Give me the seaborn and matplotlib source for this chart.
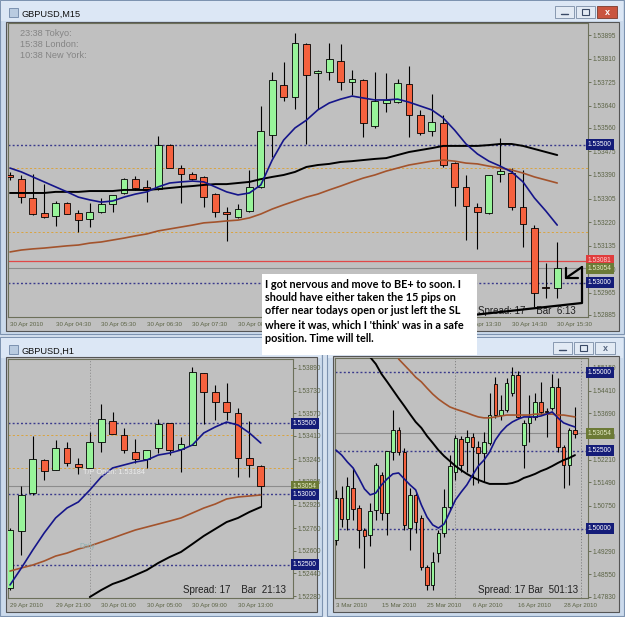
import numpy as np
import matplotlib
matplotlib.use("Agg")
import matplotlib.pyplot as plt
import matplotlib.transforms as mtransforms
from matplotlib.patches import Rectangle
from matplotlib.lines import Line2D
import seaborn as sns

nan = np.nan

# ---------------- GBPUSD M15 (30 Apr 2010, 03:30 .. 15:30) ----------------
m15_xlabels = ['30 Apr 2010', '30 Apr 04:30', '30 Apr 05:30', '30 Apr 06:30', '30 Apr 07:30',
               '30 Apr 08:30', '30 Apr 09:30', '30 Apr 10:30', '30 Apr 11:30', '30 Apr 12:30',
               '30 Apr 13:30', '30 Apr 14:30', '30 Apr 15:30']
m15_open = [1.53390, 1.53375, 1.53307, 1.53253, 1.53242, 1.53289, 1.53253, 1.53231, 1.53256, 1.53285,
            1.53325, 1.53375, 1.53347, 1.53339, 1.53498, 1.53415, 1.53393, 1.53383, 1.53321, 1.53256,
            1.53238, 1.53260, 1.53347, 1.53534, 1.53715, 1.53671, 1.53863, 1.53758, 1.53762, 1.53801,
            1.53726, 1.53733, 1.53567, 1.53650, 1.53653, 1.53718, 1.53606, 1.53549, 1.53578, 1.53433,
            1.53347, 1.53274, 1.53253, 1.53393, 1.53397, 1.53274, 1.53199, 1.52986, 1.52982]
m15_high = [1.53401, 1.53390, 1.53393, 1.53357, 1.53296, 1.53292, 1.53264, 1.53289, 1.53307, 1.53318,
            1.53379, 1.53386, 1.53372, 1.53531, 1.53502, 1.53426, 1.53401, 1.53386, 1.53325, 1.53274,
            1.53285, 1.53408, 1.53639, 1.53762, 1.53798, 1.53903, 1.53866, 1.53769, 1.53866, 1.53863,
            1.53769, 1.53736, 1.53762, 1.53758, 1.53736, 1.53783, 1.53625, 1.53682, 1.53606, 1.53437,
            1.53390, 1.53289, 1.53390, 1.53523, 1.53415, 1.53408, 1.53209, 1.53072, 1.53148]
m15_low = [1.53372, 1.53289, 1.53245, 1.53235, 1.53206, 1.53249, 1.53184, 1.53202, 1.53253, 1.53256,
           1.53321, 1.53336, 1.53292, 1.53336, 1.53415, 1.53289, 1.53372, 1.53274, 1.53238, 1.53152,
           1.53235, 1.53256, 1.53343, 1.53455, 1.53657, 1.53628, 1.53502, 1.53628, 1.53733, 1.53697,
           1.53679, 1.53527, 1.53560, 1.53617, 1.53650, 1.53527, 1.53534, 1.53531, 1.53419, 1.53278,
           1.53155, 1.53123, 1.53249, 1.53365, 1.53264, 1.53130, 1.52913, 1.52946, 1.52946]
m15_close = [1.53383, 1.53310, 1.53249, 1.53238, 1.53289, 1.53249, 1.53227, 1.53256, 1.53285, 1.53318,
             1.53375, 1.53343, 1.53336, 1.53498, 1.53415, 1.53393, 1.53375, 1.53310, 1.53256, 1.53249,
             1.53267, 1.53347, 1.53549, 1.53733, 1.53671, 1.53866, 1.53751, 1.53765, 1.53809, 1.53726,
             1.53736, 1.53578, 1.53657, 1.53661, 1.53722, 1.53606, 1.53542, 1.53581, 1.53426, 1.53347,
             1.53278, 1.53256, 1.53390, 1.53404, 1.53274, 1.53213, 1.52964, 1.52982, 1.53054]
m15_ma_fast = [1.53415, 1.53401, 1.53383, 1.53365, 1.53347, 1.53329, 1.53310, 1.53300, 1.53292, 1.53296,
               1.53310, 1.53321, 1.53329, 1.53347, 1.53361, 1.53365, 1.53368, 1.53365, 1.53347, 1.53329,
               1.53318, 1.53325, 1.53354, 1.53444, 1.53516, 1.53560, 1.53588, 1.53625, 1.53650, 1.53664,
               1.53675, 1.53668, 1.53661, 1.53661, 1.53664, 1.53653, 1.53639, 1.53625, 1.53596, 1.53552,
               1.53502, 1.53466, 1.53440, 1.53422, 1.53401, 1.53365, 1.53307, 1.53260, 1.53209]
m15_ma_mid = [1.53325, 1.53325, 1.53325, 1.53325, 1.53329, 1.53329, 1.53329, 1.53332, 1.53332, 1.53332,
              1.53336, 1.53336, 1.53336, 1.53339, 1.53343, 1.53347, 1.53350, 1.53354, 1.53357, 1.53357,
              1.53361, 1.53365, 1.53375, 1.53383, 1.53390, 1.53401, 1.53419, 1.53426, 1.53430, 1.53437,
              1.53440, 1.53444, 1.53448, 1.53451, 1.53462, 1.53473, 1.53480, 1.53487, 1.53495, 1.53495,
              1.53495, 1.53495, 1.53498, 1.53502, 1.53502, 1.53495, 1.53484, 1.53473, 1.53462]
m15_ma_slow = [1.53112, 1.53119, 1.53123, 1.53126, 1.53130, 1.53134, 1.53137, 1.53144, 1.53148, 1.53155,
               1.53162, 1.53170, 1.53177, 1.53188, 1.53195, 1.53202, 1.53209, 1.53217, 1.53220, 1.53224,
               1.53227, 1.53235, 1.53249, 1.53267, 1.53282, 1.53296, 1.53310, 1.53321, 1.53336, 1.53350,
               1.53365, 1.53379, 1.53390, 1.53404, 1.53415, 1.53426, 1.53433, 1.53440, 1.53444, 1.53440,
               1.53433, 1.53430, 1.53422, 1.53415, 1.53408, 1.53397, 1.53383, 1.53372, 1.53361]
m15_yticks = [1.53895, 1.53810, 1.53725, 1.53640, 1.53560, 1.53475, 1.53390, 1.53305,
              1.53220, 1.53135, 1.53050, 1.52965, 1.52885]

# ---------------- GBPUSD H1 (29 Apr 17:00 .. 30 Apr 15:00) ----------------
h1_xlabels = ['29 Apr 2010', '29 Apr 21:00', '30 Apr 01:00', '30 Apr 05:00', '30 Apr 09:00', '30 Apr 13:00']
h1_open = [1.52336, 1.52739, 1.53007, 1.53240, 1.53169, 1.53325, 1.53212, 1.53184, 1.53367, 1.53515,
           1.53417, 1.53297, 1.53247, 1.53325, 1.53501, 1.53318, 1.53346, 1.53854, 1.53720, 1.53650,
           1.53572, 1.53254, 1.53198]
h1_high = [1.52760, 1.53056, 1.53409, 1.53247, 1.53381, 1.53367, 1.53254, 1.53438, 1.53635, 1.53579,
           1.53466, 1.53388, 1.53311, 1.53530, 1.53501, 1.53402, 1.53897, 1.53854, 1.53770, 1.53784,
           1.53607, 1.53515, 1.53205]
h1_low = [1.52322, 1.52569, 1.52990, 1.53099, 1.53169, 1.53198, 1.53141, 1.53184, 1.53297, 1.53424,
          1.53289, 1.53219, 1.53184, 1.53289, 1.53275, 1.53155, 1.53346, 1.53494, 1.53522, 1.53522,
          1.53120, 1.53120, 1.52908]
h1_close = [1.52746, 1.52993, 1.53247, 1.53162, 1.53325, 1.53219, 1.53191, 1.53367, 1.53530, 1.53424,
            1.53311, 1.53247, 1.53311, 1.53494, 1.53311, 1.53353, 1.53861, 1.53720, 1.53650, 1.53579,
            1.53254, 1.53205, 1.53054]
h1_ma_fast = [1.52358, 1.52478, 1.52605, 1.52725, 1.52831, 1.52901, 1.52944, 1.53028, 1.53120, 1.53184,
              1.53205, 1.53226, 1.53240, 1.53275, 1.53289, 1.53311, 1.53346, 1.53431, 1.53473, 1.53508,
              1.53487, 1.53431, 1.53360]
h1_ma_mid = [nan, nan, nan, nan, nan, nan, nan, 1.52273, 1.52322, 1.52365,
             1.52393, 1.52428, 1.52463, 1.52513, 1.52555, 1.52591, 1.52647, 1.52704, 1.52753, 1.52802,
             1.52831, 1.52873, 1.52908]
h1_ma_slow = [1.52456, 1.52478, 1.52499, 1.52527, 1.52562, 1.52583, 1.52612, 1.52633, 1.52661, 1.52689,
              1.52718, 1.52746, 1.52767, 1.52788, 1.52809, 1.52831, 1.52866, 1.52901, 1.52929, 1.52965,
              1.52979, 1.52986, 1.52993]
h1_yticks = [1.53890, 1.53730, 1.53570, 1.53410, 1.53245, 1.53085, 1.52925, 1.52760,
             1.52600, 1.52440, 1.52280]

# ---------------- GBPUSD D1 (3 Mar .. 30 Apr 2010) ----------------
d1_xlabels = ['3 Mar 2010', '15 Mar 2010', '25 Mar 2010', '6 Apr 2010', '16 Apr 2010', '28 Apr 2010']
d1_open = [1.4965, 1.5099, 1.5032, 1.5131, 1.5067, 1.4997, 1.4981, 1.5061, 1.5172, 1.5051,
           1.5246, 1.5316, 1.5246, 1.5003, 1.5109, 1.5035, 1.4879, 1.4821, 1.4923, 1.4987,
           1.5070, 1.5182, 1.5287, 1.5278, 1.5294, 1.5262, 1.5243, 1.5275, 1.5463, 1.5364,
           1.5380, 1.5434, 1.5492, 1.5268, 1.5339, 1.5358, 1.5406, 1.5377, 1.5386, 1.5454,
           1.5262, 1.5204, 1.5316]
d1_high = [1.5125, 1.5137, 1.5166, 1.5195, 1.5077, 1.5003, 1.5083, 1.5211, 1.5182, 1.5249,
           1.5380, 1.5326, 1.5259, 1.5131, 1.5115, 1.5045, 1.4885, 1.4927, 1.4997, 1.5128,
           1.5236, 1.5300, 1.5297, 1.5316, 1.5307, 1.5281, 1.5310, 1.5434, 1.5485, 1.5428,
           1.5482, 1.5517, 1.5505, 1.5348, 1.5428, 1.5434, 1.5470, 1.5386, 1.5495, 1.5482,
           1.5268, 1.5323, 1.5390]
d1_low = [1.4949, 1.5006, 1.4997, 1.5029, 1.4939, 1.4875, 1.4946, 1.5029, 1.5029, 1.4981,
          1.5220, 1.5236, 1.4997, 1.4933, 1.4987, 1.4869, 1.4805, 1.4805, 1.4895, 1.4974,
          1.5061, 1.5157, 1.5182, 1.5182, 1.5141, 1.5147, 1.5150, 1.5268, 1.5355, 1.5348,
          1.5374, 1.5425, 1.5355, 1.5195, 1.5278, 1.5348, 1.5364, 1.5294, 1.5380, 1.5246,
          1.5131, 1.5141, 1.5291]
d1_close = [1.5099, 1.5032, 1.5137, 1.5064, 1.4997, 1.4978, 1.5057, 1.5204, 1.5051, 1.5249,
            1.5316, 1.5246, 1.5013, 1.5109, 1.5022, 1.4879, 1.4821, 1.4895, 1.4987, 1.5070,
            1.5201, 1.5291, 1.5204, 1.5294, 1.5262, 1.5243, 1.5278, 1.5364, 1.5364, 1.5380,
            1.5466, 1.5492, 1.5358, 1.5339, 1.5358, 1.5406, 1.5374, 1.5374, 1.5454, 1.5262,
            1.5204, 1.5316, 1.5305]
d1_ma_fast = [1.5252, 1.5236, 1.5214, 1.5195, 1.5163, 1.5128, 1.5109, 1.5115, 1.5141, 1.5160,
              1.5176, 1.5179, 1.5160, 1.5141, 1.5125, 1.5077, 1.5038, 1.5013, 1.5003, 1.5016,
              1.5054, 1.5093, 1.5118, 1.5141, 1.5172, 1.5201, 1.5220, 1.5246, 1.5284, 1.5310,
              1.5329, 1.5342, 1.5351, 1.5358, 1.5358, 1.5358, 1.5361, 1.5367, 1.5374, 1.5355,
              1.5339, 1.5332, 1.5326]
d1_ma_mid = [nan, nan, nan, nan, nan, nan, 1.5549, 1.5527, 1.5495, 1.5470,
             1.5444, 1.5418, 1.5393, 1.5367, 1.5342, 1.5323, 1.5297, 1.5275, 1.5252, 1.5233,
             1.5217, 1.5201, 1.5188, 1.5176, 1.5166, 1.5157, 1.5150, 1.5144, 1.5144, 1.5144,
             1.5144, 1.5147, 1.5153, 1.5163, 1.5169, 1.5176, 1.5185, 1.5192, 1.5201, 1.5211,
             1.5220, 1.5227, 1.5236]
d1_ma_slow = [nan, nan, nan, nan, nan, nan, nan, nan, nan, nan,
              nan, 1.5543, 1.5524, 1.5505, 1.5485, 1.5470, 1.5450, 1.5431, 1.5415, 1.5402,
              1.5390, 1.5383, 1.5377, 1.5371, 1.5364, 1.5358, 1.5355, 1.5355, 1.5358, 1.5361,
              1.5364, 1.5364, 1.5364, 1.5364, 1.5364, 1.5367, 1.5367, 1.5367, 1.5367, 1.5364,
              1.5364, 1.5361, 1.5358]
d1_yticks = [1.55150, 1.54410, 1.53690, 1.52950, 1.52210, 1.51490, 1.50750, 1.49290, 1.48550, 1.47830]

# levels
bid = 1.53054
m15_blue_levels = [1.53500, 1.53000]
h1_blue_levels = [1.53500, 1.53000, 1.52500]
d1_blue_levels = [1.55000, 1.52500, 1.50000]
orange_levels = [1.53415, 1.53184]
sl_level = 1.53081

note = ["I got nervous and move to BE+ to soon. I",
        "should have either taken the 15 pips on",
        "offer near todays open or just left the SL",
        "where it was, which I 'think' was in a safe",
        "position. Time will tell."]

sns.set_theme(style="white")
plt.rcParams['font.family'] = ['Liberation Sans', 'DejaVu Sans']

W, H = 625, 617
fig = plt.figure(figsize=(W / 100, H / 100), dpi=100)
fig.patch.set_facecolor('#d5e1ef')

GREEN = '#98f49a'
RED = '#f5613e'
BLUE = '#15158a'
BROWN = '#a3532c'
LBL = '#5c6446'
CHART_BG = '#c0c0c0'


def frect(x, y, w, h, **kw):
    fig.add_artist(Rectangle((x / W, 1 - (y + h) / H), w / W, h / H,
                             transform=fig.transFigure, **kw))


def ftext(x, y, s, **kw):
    fig.text(x / W, 1 - y / H, s, **kw)


def fline(xs, ys, **kw):
    fig.add_artist(Line2D([x / W for x in xs], [1 - y / H for y in ys],
                          transform=fig.transFigure, **kw))


def add_ax(x0, y0, x1, y1):
    return fig.add_axes([x0 / W, 1 - y1 / H, (x1 - x0) / W, (y1 - y0) / H])


def window(x, y, w, h, cx, cy, cw, ch, title=None):
    frect(x, y, w, h, fc='#cbdaec', ec='#7d93b0', lw=0.8, zorder=-5)
    frect(x + 1, y + 1, w - 2, 20, fc='#dce7f5', ec='none', zorder=-4)
    frect(cx, cy, cw, ch, fc=CHART_BG, ec='#555555', lw=0.8, zorder=-3)
    if title:
        frect(x + 9, y + 8, 9, 9, fc='#b9cbe0', ec='#6f86a6', lw=0.6, zorder=-2)
        ftext(x + 22, y + 14, title, fontsize=6.6, color='#111111', va='center')


def buttons(x, y, active):
    frect(x, y, 19, 12, fc='#e2eaf4', ec='#7a8ca6', lw=0.6, zorder=-2)
    frect(x + 21, y, 19, 12, fc='#e2eaf4', ec='#7a8ca6', lw=0.6, zorder=-2)
    frect(x + 42, y, 20, 12, fc='#c9553f' if active else '#e2eaf4',
          ec='#7a3a2c' if active else '#7a8ca6', lw=0.6, zorder=-2)
    fline([x + 6, x + 13], [y + 8, y + 8], color='#3a4a66', lw=1.0, zorder=-1)
    frect(x + 27, y + 3, 7, 6, fc='none', ec='#3a4a66', lw=0.8, zorder=-1)
    ftext(x + 52, y + 6.5, 'x', fontsize=6.5, fontweight='bold', ha='center', va='center',
          color='white' if active else '#55657f')


def price_box(ax, price, fc, tc):
    tr = mtransforms.blended_transform_factory(ax.transAxes, ax.transData)
    ax.text(1.0, price, f'{price:.5f}', transform=tr, ha='left', va='center',
            fontsize=4.8, color=tc, zorder=6, clip_on=False,
            bbox=dict(boxstyle='square,pad=0.3', fc=fc, ec='none'))


def panel(ax, o, h, l, c, fast, mid, slow, body_w, min_body, xlim, ylim,
          yticks, xlabels, xstep):
    idx = np.arange(len(o))
    o = np.array(o)
    c = np.array(c)
    colors = np.where(c >= o, GREEN, RED)
    ax.set_facecolor(CHART_BG)
    ax.vlines(idx, l, h, color='black', lw=0.8, zorder=2)
    ax.bar(idx, np.maximum(np.abs(c - o), min_body), body_w, np.minimum(o, c),
           color=colors, edgecolor='black', lw=0.6, zorder=3)
    for vals, col, lw in [(slow, BROWN, 1.2), (mid, 'black', 1.4), (fast, BLUE, 1.2)]:
        v = np.array(vals, dtype=float)
        m = ~np.isnan(v)
        sns.lineplot(x=idx[m], y=v[m], color=col, lw=lw, ax=ax, legend=False,
                     estimator=None, errorbar=None, zorder=4)
    ax.set_xlabel('')
    ax.set_ylabel('')
    ax.set_xlim(*xlim)
    ax.set_ylim(*ylim)
    ax.yaxis.tick_right()
    ax.set_yticks(yticks, [f'{t:.5f}' for t in yticks])
    ax.set_xticks(idx[::xstep][:len(xlabels)], xlabels, ha='left')
    ax.tick_params(axis='both', labelsize=4.7, labelcolor=LBL, color=LBL,
                   length=2, width=0.6, pad=1.2, direction='out')
    ax.tick_params(axis='x', pad=1.5, labelsize=4.4)
    for s in ax.spines.values():
        s.set_color('#6c705a')
        s.set_linewidth(0.8)


def hline(ax, y, color, ls, lw):
    ax.axhline(y, color=color, ls=ls, lw=lw, zorder=1)


# windows
window(0, 0, 624, 334, 6, 22, 613, 309, 'GBPUSD,M15')
buttons(555, 6, True)
window(0, 337, 322, 279, 6, 357, 311, 255, 'GBPUSD,H1')
window(327, 337, 297, 279, 333, 356, 286, 256)
buttons(553, 342, False)

DOT = (0, (1.4, 1.6))
ORG = (0, (2.2, 2.2))

# ---- M15 panel
ax1 = add_ax(8, 23, 588, 317)
hline(ax1, sl_level, '#e04848', '-', 0.9)
hline(ax1, bid, '#8c8c8c', '-', 0.8)
for lv in m15_blue_levels:
    hline(ax1, lv, '#3a3a8c', DOT, 1.0)
for lv in orange_levels:
    hline(ax1, lv, '#d9a441', ORG, 0.7)
panel(ax1, m15_open, m15_high, m15_low, m15_close, m15_ma_fast, m15_ma_mid, m15_ma_slow,
      0.6, 0.000036, (-0.175, 50.70), (1.52877, 1.53939), m15_yticks, m15_xlabels, 4)
price_box(ax1, 1.53500, '#141c78', 'white')
price_box(ax1, sl_level, '#e03c3c', '#ffd0d0')
price_box(ax1, bid, '#6c7a36', '#e4eac4')
price_box(ax1, 1.53000, '#141c78', 'white')

ftext(20, 34, '23:38 Tokyo:', fontsize=6.6, color='#858585', va='center')
ftext(20, 44.5, '15:38 London:', fontsize=6.6, color='#858585', va='center')
ftext(20, 55, '10:38 New York:', fontsize=6.6, color='#858585', va='center')
ftext(478, 311, 'Spread: 17    Bar  6:13', fontsize=7, color='#202020', va='center')

# hand-drawn marks on M15 chart
fline([473, 582, 582], [315, 303, 267], color='black', lw=1.6, zorder=4)
fline([582, 566], [267, 278], color='black', lw=1.6, zorder=4)
fline([566, 566, 578], [268, 278, 278], color='black', lw=1.6, zorder=4)

# ---- H1 panel
ax2 = add_ax(8, 359, 293, 598)
hline(ax2, bid, '#8c8c8c', '-', 0.8)
for lv in h1_blue_levels:
    hline(ax2, lv, '#3a3a8c', DOT, 1.0)
for lv in orange_levels:
    hline(ax2, lv, '#d9a441', ORG, 0.7)
ax2.axvline(7, color='#8c8c8c', ls=(0, (1.5, 2)), lw=0.6, zorder=1)
panel(ax2, h1_open, h1_high, h1_low, h1_close, h1_ma_fast, h1_ma_mid, h1_ma_slow,
      0.58, 0.00007, (-0.175, 24.825), (1.52266, 1.53953), h1_yticks, h1_xlabels, 4)
price_box(ax2, 1.53500, '#141c78', 'white')
price_box(ax2, bid, '#6c7a36', '#e4eac4')
price_box(ax2, 1.53000, '#141c78', 'white')
price_box(ax2, 1.52500, '#141c78', 'white')
ax2.text(6.4, 1.53184 - 0.00004, 'T/P Open: 1.53184', fontsize=5.3, color='#ececec',
         va='top', zorder=5)
ax2.text(6.1, 1.52633, 'Daily', fontsize=5, color='#8fb2b4', va='center', zorder=5)
ftext(183, 590, 'Spread: 17    Bar  21:13', fontsize=7, color='#202020', va='center')

# ---- D1 panel
ax3 = add_ax(335, 358, 588, 598)
hline(ax3, bid, '#8c8c8c', '-', 0.8)
for lv in d1_blue_levels:
    hline(ax3, lv, '#3a3a8c', DOT, 1.0)
ax3.axvline(21, color='#7c7c7c', ls=(0, (1.5, 2)), lw=0.6, zorder=1)
ax3.axvline(43, color='#7c7c7c', ls=(0, (1.5, 2)), lw=0.6, zorder=1)
panel(ax3, d1_open, d1_high, d1_low, d1_close, d1_ma_fast, d1_ma_mid, d1_ma_slow,
      0.62, 0.0003, (-0.176, 44.29), (1.47796, 1.55462), d1_yticks, d1_xlabels, 8)
price_box(ax3, 1.55000, '#141c78', 'white')
price_box(ax3, bid, '#6c7a36', '#e4eac4')
price_box(ax3, 1.52500, '#141c78', 'white')
price_box(ax3, 1.50000, '#141c78', 'white')
ftext(478, 590, 'Spread: 17 Bar  501:13', fontsize=7, color='#202020', va='center')

# ---- note box
frect(262, 274, 215, 81, fc='white', ec='none', zorder=8)
for k, line in enumerate(note):
    ftext(265, 284 + 13.5 * k, line, fontsize=7.8, fontweight='bold', family='Lato',
          color='black', va='center', zorder=9)

fig.savefig('out.png', dpi=100, facecolor=fig.get_facecolor())
